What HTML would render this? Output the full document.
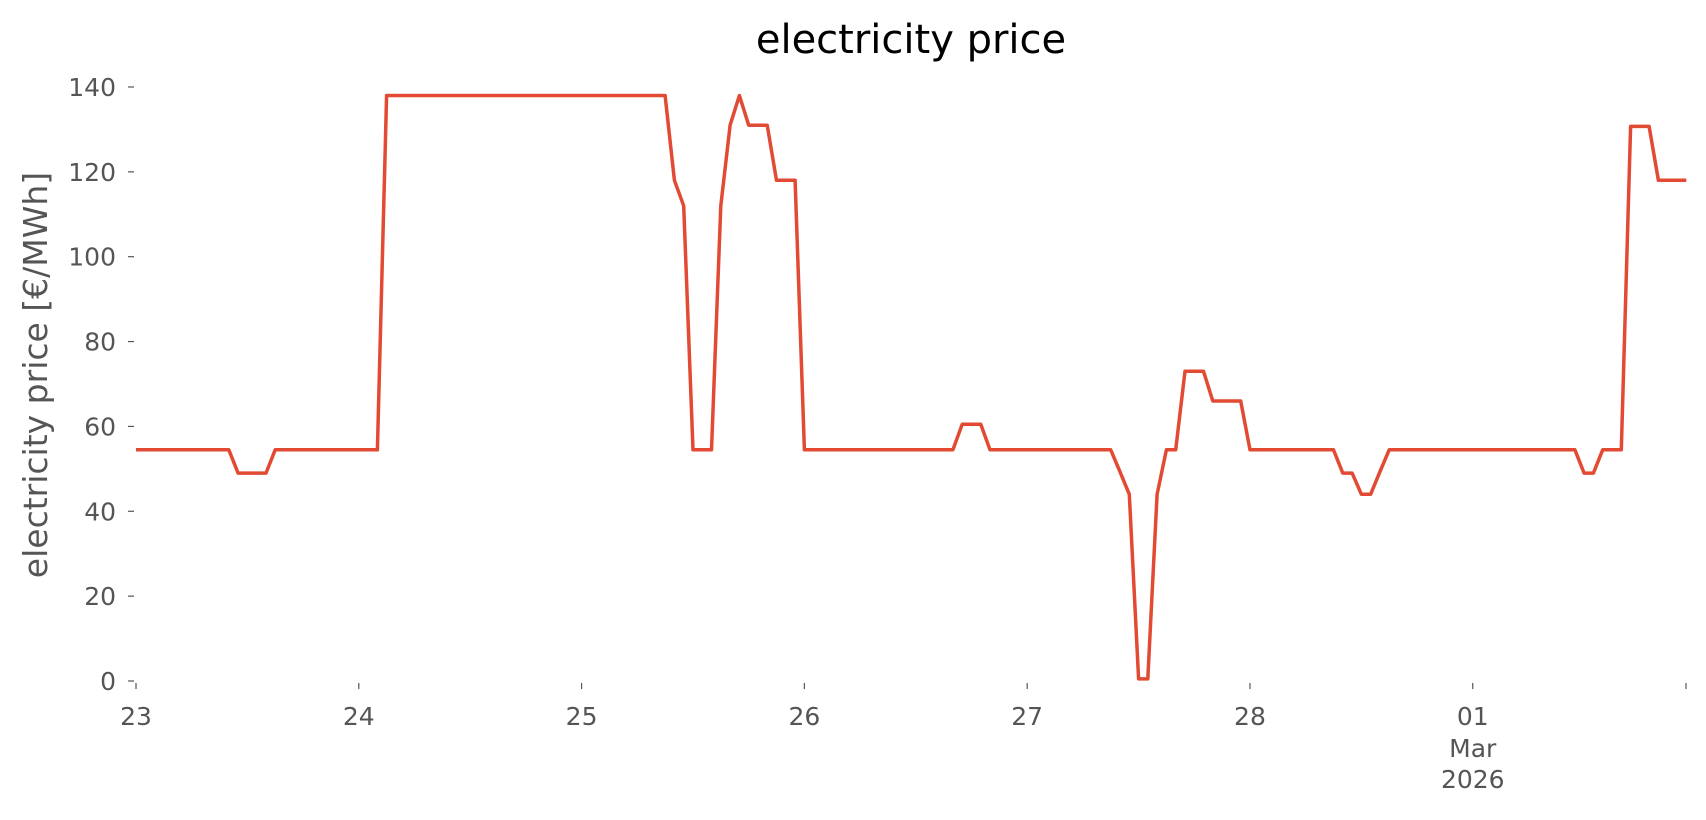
<!DOCTYPE html>
<html><head><meta charset="utf-8"><style>
body{margin:0;background:#fff;}
text{font-family:"DejaVu Sans","Liberation Sans",sans-serif;}
</style></head><body>
<svg id="s" width="1706" height="815" xmlns="http://www.w3.org/2000/svg">
<text x="911" y="53" text-anchor="middle" font-size="40" fill="#000">electricity price</text>
<text transform="translate(47,375) rotate(-90)" text-anchor="middle" font-size="33" fill="#555">electricity price [€/MWh]</text>
<g id="yt" font-size="25" fill="#555" text-anchor="end"></g>
<g id="xt" font-size="25" fill="#555" text-anchor="middle"></g>
<polyline id="pl" fill="none" stroke="#E24A33" stroke-width="3.5" stroke-linejoin="round" points=""/>
</svg>
<script>
var X0=136,PH=9.283,Y0=681,PU=4.243;
var d=[];
function set(a,b,v){for(var h=a;h<=b;h++)d[h]=v;}
set(0,10,54.5);set(11,14,49);set(15,26,54.5);set(27,57,138);
d[58]=118;d[59]=112;set(60,62,54.5);d[63]=112;d[64]=131;d[65]=138;set(66,68,131);set(69,71,118);
set(72,88,54.5);set(89,91,60.5);set(92,105,54.5);d[106]=49.3;d[107]=44;d[108]=0.5;d[109]=0.5;d[110]=44;
set(111,112,54.5);set(113,115,73);set(116,119,66);set(120,129,54.5);set(130,131,49);set(132,133,44);d[134]=49.3;
set(135,155,54.5);set(156,157,49);set(158,160,54.5);set(161,163,130.7);set(164,167,118);
var p=[];for(var h=0;h<168;h++)p.push((X0+h*PH).toFixed(1)+","+(Y0-d[h]*PU).toFixed(1));
document.getElementById('pl').setAttribute('points',p.join(' '));
var s='';
for(var v=0;v<=140;v+=20){var y=Y0-v*PU;s+='<text x="116" y="'+(y+9)+'">'+v+'</text><line x1="128" x2="134" y1="'+y+'" y2="'+y+'" stroke="#555" stroke-width="1.2"/>';}
document.getElementById('yt').innerHTML=s;
var lab=['23','24','25','26','27','28','01'];s='';
for(var i=0;i<7;i++){var x=X0+i*24*PH;s+='<line x1="'+x+'" x2="'+x+'" y1="683" y2="689" stroke="#555" stroke-width="1.2"/><text x="'+x+'" y="725">'+lab[i]+'</text>';}
s+='<text x="'+(X0+144*PH)+'" y="757">Mar</text><text x="'+(X0+144*PH)+'" y="788">2026</text>';
s+='<line x1="1686" x2="1686" y1="683" y2="689" stroke="#555" stroke-width="1.2"/>';
document.getElementById('xt').innerHTML=s;
</script>
</body></html>
